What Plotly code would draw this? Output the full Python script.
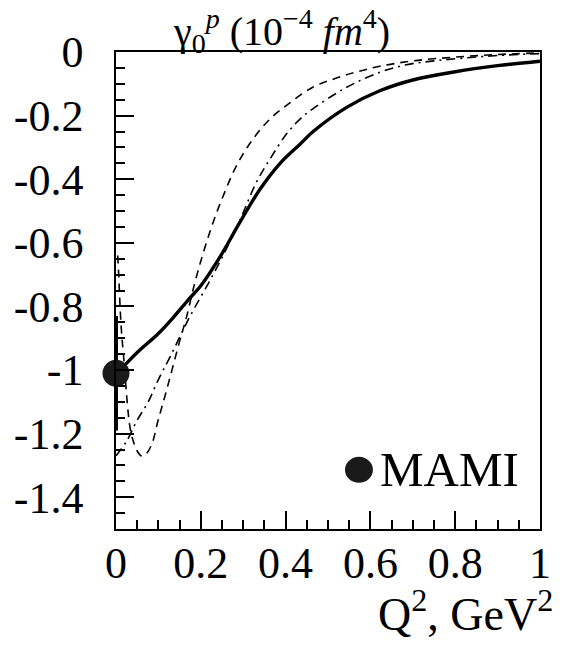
import plotly.graph_objects as go

# MAMI data point
mami_q2 = [0.0]
mami_gamma = [-1.01]
mami_err = [0.18]

# solid curve
solid_q2 = [0.0, 0.02, 0.05, 0.1, 0.135, 0.17, 0.2, 0.245, 0.292, 0.34, 0.387, 0.434, 0.465,
            0.544, 0.622, 0.70, 0.8, 0.9, 1.0]
solid_gamma = [-1.01, -0.985, -0.945, -0.885, -0.835, -0.78, -0.735, -0.645, -0.536, -0.431, -0.35,
               -0.29, -0.25, -0.174, -0.122, -0.088, -0.062, -0.043, -0.029]

# dashed curve
dash_q2 = [0.004, 0.006, 0.012, 0.02, 0.027, 0.033, 0.041, 0.05, 0.06, 0.07, 0.084, 0.099, 0.12,
           0.15, 0.167, 0.186, 0.206, 0.229, 0.253, 0.284, 0.323, 0.363, 0.41, 0.465, 0.52, 0.567,
           0.622, 0.70, 0.8, 0.9, 1.0]
dash_gamma = [-0.64, -0.69, -0.86, -0.99, -1.11, -1.18, -1.225, -1.255, -1.27, -1.265, -1.235, -1.16,
              -1.06, -0.91, -0.83, -0.725, -0.631, -0.536, -0.452, -0.358, -0.274, -0.211, -0.16,
              -0.11, -0.082, -0.063, -0.045, -0.028, -0.016, -0.008, -0.003]

# dash-dotted curve
dd_q2 = [0.0, 0.025, 0.049, 0.076, 0.1, 0.127, 0.175, 0.221, 0.26, 0.292, 0.331, 0.363, 0.402,
         0.434, 0.465, 0.544, 0.622, 0.685, 0.75, 0.82, 0.9, 1.0]
dd_gamma = [-1.27, -1.224, -1.16, -1.10, -1.03, -0.96, -0.83, -0.72, -0.62, -0.53, -0.41, -0.337,
            -0.258, -0.211, -0.178, -0.111, -0.064, -0.040, -0.028, -0.019, -0.011, -0.005]

x_ticks = [0, 0.2, 0.4, 0.6, 0.8, 1.0]
x_labels = ["0", "0.2", "0.4", "0.6", "0.8", "1"]
y_ticks = [0, -0.2, -0.4, -0.6, -0.8, -1.0, -1.2, -1.4]
y_labels = ["0", "-0.2", "-0.4", "-0.6", "-0.8", "-1", "-1.2", "-1.4"]

FONT = "Liberation Serif, Times New Roman, DejaVu Serif, serif"

fig = go.Figure()

fig.add_trace(go.Scatter(x=dash_q2, y=dash_gamma, mode="lines", line_shape="spline",
                         line=dict(color="black", width=1.6, dash="8px,6px")))
fig.add_trace(go.Scatter(x=dd_q2, y=dd_gamma, mode="lines", line_shape="spline",
                         line=dict(color="black", width=1.6, dash="9px,5px,2px,5px")))
fig.add_trace(go.Scatter(x=solid_q2, y=solid_gamma, mode="lines", line_shape="spline",
                         line=dict(color="black", width=3.4)))
fig.add_trace(go.Scatter(x=mami_q2, y=mami_gamma, mode="markers", cliponaxis=False,
                         marker=dict(color="#1a1a1a", size=27),
                         error_y=dict(type="data", array=mami_err, thickness=4, width=0, color="black")))

# legend entry
fig.add_shape(type="circle", xref="paper", yref="paper", xsizemode="pixel", ysizemode="pixel",
              xanchor=0.573, yanchor=0.124, x0=-14, x1=14, y0=-13, y1=13,
              fillcolor="#1a1a1a", line=dict(width=0))
fig.add_annotation(text="MAMI", xref="paper", yref="paper", x=0.618, y=0.124,
                   xanchor="left", yanchor="middle", showarrow=False,
                   font=dict(family=FONT, size=49, color="black"))

# titles
fig.add_annotation(text="γ<sub>0</sub><sup><i>p</i></sup> (10<sup>−4</sup> <i>fm</i><sup>4</sup>)",
                   xref="paper", yref="paper", x=0.39, y=1.044, xanchor="center", yanchor="middle",
                   showarrow=False, font=dict(family=FONT, size=40, color="black"))
fig.add_annotation(text="Q<sup>2</sup>, GeV<sup>2</sup>", xref="paper", yref="paper",
                   x=1.035, y=-0.172, xanchor="right", yanchor="middle", showarrow=False,
                   font=dict(family=FONT, size=46, color="black"))

axis_common = dict(showgrid=False, zeroline=False, showline=True, linecolor="black", linewidth=1.5,
                   mirror=True, ticks="inside", ticklen=18, tickwidth=1.5, tickcolor="black",
                   automargin=False, tickfont=dict(family=FONT, size=44, color="black"))

fig.update_xaxes(range=[0, 1], tickvals=x_ticks, ticktext=x_labels, ticklabelstandoff=-6,
                 minor=dict(tick0=0, dtick=0.05, ticks="inside", ticklen=9, tickcolor="black",
                            tickwidth=1.5),
                 **axis_common)
fig.update_yaxes(range=[-1.5, 0], tickvals=y_ticks, ticktext=y_labels, ticklabelstandoff=22,
                 minor=dict(tick0=0, dtick=0.05, ticks="inside", ticklen=9, tickcolor="black",
                            tickwidth=1.5),
                 **axis_common)

# the page body has an 8px margin, so the figure is shifted by 8px right and down
fig.update_layout(width=561, height=641, margin=dict(l=108, r=29, t=44, b=120),
                  plot_bgcolor="white", paper_bgcolor="white", showlegend=False)

fig.write_html("out.html")
